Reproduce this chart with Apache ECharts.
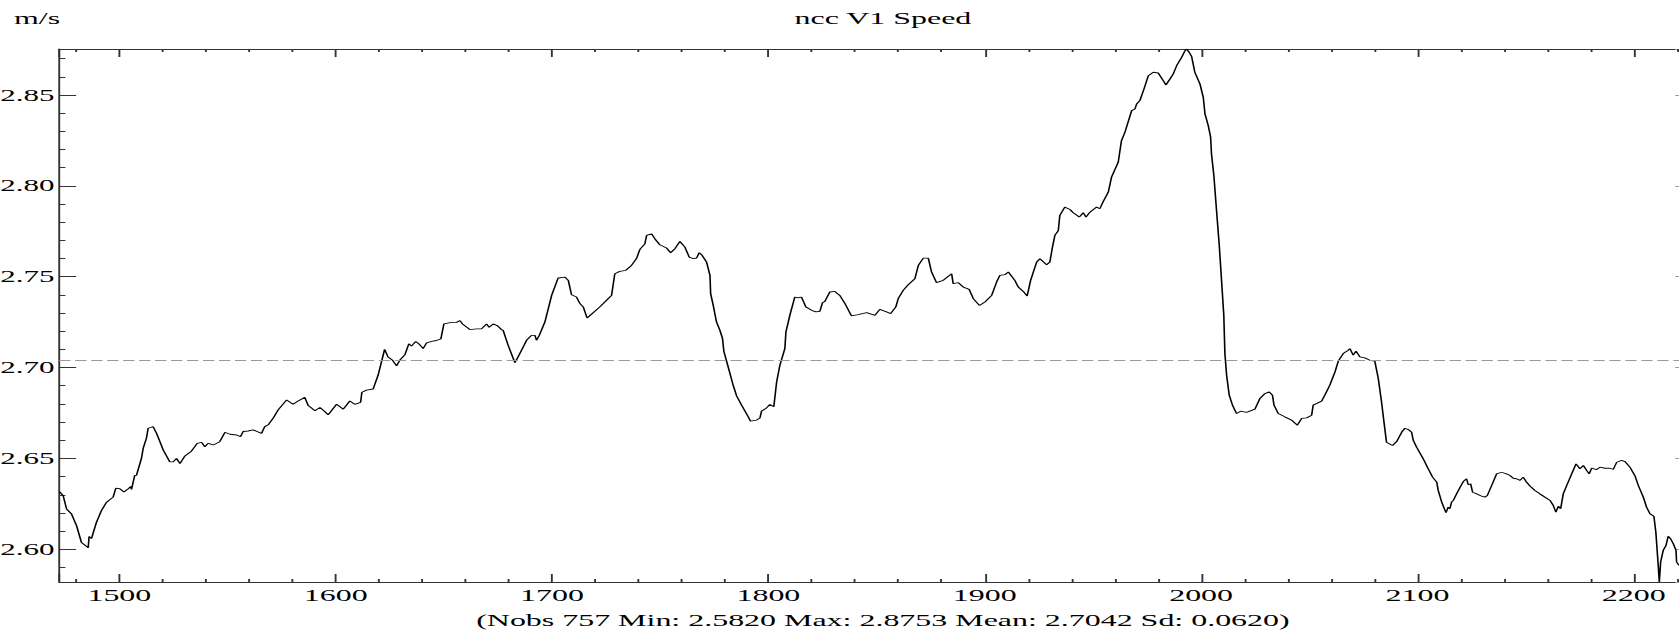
<!DOCTYPE html>
<html><head><meta charset="utf-8">
<script src="https://cdn.jsdelivr.net/npm/echarts@6/dist/echarts.min.js"></script>
<style>
html,body{margin:0;padding:0;background:#fff;width:1679px;height:632px;overflow:hidden}
#chart{width:893px;height:632px;transform:scaleX(1.880179);transform-origin:0 0}
</style></head><body><div id="chart"></div>
<script>
const chartTitle = 'ncc V1 Speed';
const unitLabel = 'm/s';
const summaryText = '(Nobs 757 Min: 2.5820 Max: 2.8753 Mean: 2.7042 Sd: 0.0620)';
const meanSpeed = 2.7042;
const xRange = [1472.2, 2220.9];
const yRange = [2.5820, 2.8753];

// [observation, speed m/s]
const speedStart = [
[1472.2,2.6318],[1474.0,2.6296],[1475.6,2.6222],[1477.9,2.6194],[1480.2,2.6130],[1482.5,2.6037],[1484.0,2.6024],[1485.6,2.6009],[1486.0,2.6070],[1487.1,2.6059],
[1489.4,2.6148],[1491.7,2.6213],[1494.1,2.6259],[1497.1,2.6287],[1498.4,2.6337],[1500.2,2.6333],[1502.1,2.6315],[1504.1,2.6333],[1505.3,2.6346],[1505.6,2.6329],
[1507.1,2.6407],[1507.9,2.6407],[1510.2,2.6500],[1511.0,2.6555],[1512.5,2.6611],[1513.3,2.6666],[1515.6,2.6675],[1517.2,2.6638],[1520.3,2.6546],[1523.3,2.6481],
[1524.9,2.6481],[1526.4,2.6500],[1528.0,2.6472],[1530.3,2.6514],[1533.3,2.6540],[1536.0,2.6583],[1538.0,2.6588],[1539.5,2.6564],[1541.0,2.6583],[1543.4,2.6574],
[1546.4,2.6592],[1548.8,2.6644],[1551.1,2.6633],[1554.2,2.6629],[1556.0,2.6620],[1557.2,2.6648],[1559.5,2.6651],[1561.8,2.6657],[1565.7,2.6638],[1567.2,2.6675],
[1568.8,2.6685],[1571.1,2.6722]
];
const speedRise = [
[1573.4,2.6767],[1577.3,2.6822],[1580.3,2.6798],[1582.6,2.6816],[1585.7,2.6836],[1587.3,2.6791],[1590.4,2.6762],[1592.7,2.6780],[1594.5,2.6762],[1596.5,2.6740],
[1600.4,2.6798],[1603.5,2.6771],[1606.5,2.6816],[1608.8,2.6798],[1611.5,2.6809],[1612.1,2.6864],[1614.2,2.6876],[1617.3,2.6882],[1619.6,2.6958],[1622.6,2.7100],
[1624.2,2.7058],[1626.3,2.7040],[1628.1,2.7009],[1629.6,2.7040],[1632.0,2.7071],[1633.8,2.7131],[1635.0,2.7118],[1637.0,2.7144],[1638.9,2.7125],[1640.4,2.7104],
[1642.0,2.7136],[1644.3,2.7144],[1646.6,2.7149],[1648.6,2.7158],[1650.0,2.7240],[1653.5,2.7249],[1655.8,2.7249],[1657.4,2.7258],[1658.6,2.7240],[1662.0,2.7209],
[1665.1,2.7213],[1667.4,2.7213],[1669.7,2.7240],[1670.9,2.7222],[1672.8,2.7240],[1674.6,2.7231],[1676.6,2.7209]
];
const speedMiddle = [
[1677.4,2.7205],[1679.7,2.7123],[1682.8,2.7027],[1684.3,2.7059],[1686.7,2.7114],[1688.2,2.7150],[1690.5,2.7177],[1692.1,2.7177],[1692.8,2.7150],[1694.1,2.7177],
[1696.7,2.7251],[1699.8,2.7397],[1702.8,2.7493],[1705.9,2.7498],[1707.5,2.7480],[1709.0,2.7401],[1711.3,2.7388],[1712.9,2.7352],[1714.4,2.7334],[1716.2,2.7273],
[1719.0,2.7302],[1722.1,2.7334],[1725.2,2.7370],[1727.5,2.7397],[1729.0,2.7516],[1731.3,2.7529],[1734.1,2.7535],[1736.7,2.7562],[1739.0,2.7599],[1740.6,2.7650],
[1742.9,2.7681],[1743.7,2.7727],[1746.0,2.7736],[1747.5,2.7709],[1749.8,2.7676],[1752.9,2.7658],[1754.8,2.7632],[1756.8,2.7654],[1759.1,2.7694],[1761.4,2.7663],
[1763.4,2.7608],[1765.2,2.7599],[1766.8,2.7603],[1768.0,2.7632],[1769.1,2.7621],[1771.4,2.7581],[1773.0,2.7507],[1773.3,2.7407],[1774.5,2.7342],[1776.0,2.7251],
[1777.6,2.7205],[1778.8,2.7159],[1779.4,2.7090],[1781.4,2.7004],[1783.7,2.6903],[1785.3,2.6844],[1787.6,2.6793],[1790.7,2.6729],[1791.7,2.6705],[1794.5,2.6711],
[1796.1,2.6723],[1796.8,2.6760],[1799.1,2.6778],[1800.7,2.6797],[1802.5,2.6784],[1803.8,2.6921],[1805.3,2.7013],[1807.6,2.7104],[1808.1,2.7196],[1809.9,2.7287],
[1812.2,2.7388],[1813.8,2.7383],[1815.3,2.7388],[1817.3,2.7334],[1820.0,2.7315],[1822.0,2.7306],[1823.8,2.7310],[1825.0,2.7357],[1826.1,2.7364],[1828.4,2.7416],
[1830.7,2.7419],[1833.0,2.7397],[1835.4,2.7352],[1838.4,2.7284],[1841.5,2.7291],[1845.4,2.7302],[1849.2,2.7287],[1851.5,2.7320],[1854.6,2.7306],[1856.5,2.7297],
[1858.9,2.7334],[1860.0,2.7379],[1862.3,2.7425],[1864.6,2.7456],[1867.7,2.7489],[1869.3,2.7562],[1871.6,2.7602],[1873.9,2.7602],[1875.4,2.7526],[1877.7,2.7467],
[1880.8,2.7480],[1884.7,2.7516],[1885.4,2.7462],[1887.8,2.7467],[1890.1,2.7443],[1892.8,2.7430],[1894.7,2.7379],[1897.5,2.7342],[1900.1,2.7361],[1903.2,2.7397],
[1905.5,2.7471],[1907.0,2.7507]
];
const speedPeak = [
[1909.3,2.7511],[1910.9,2.7526],[1913.9,2.7480],[1915.5,2.7443],[1917.8,2.7419],[1919.6,2.7394],[1921.2,2.7480],[1924.0,2.7581],[1925.5,2.7599],[1928.6,2.7566],
[1930.1,2.7581],[1931.3,2.7663],[1932.4,2.7727],[1934.0,2.7754],[1934.7,2.7837],[1937.0,2.7883],[1939.4,2.7870],[1940.9,2.7852],[1943.7,2.7828],[1945.5,2.7852],
[1946.8,2.7828],[1948.6,2.7855],[1951.7,2.7883],[1953.2,2.7874],[1954.8,2.7914],[1957.1,2.7965],[1958.6,2.8048],[1961.7,2.8130],[1963.2,2.8249],[1964.8,2.8295],
[1967.9,2.8414],[1969.4,2.8423],[1970.2,2.8450],[1971.7,2.8469],[1973.6,2.8533],[1975.6,2.8606],[1977.9,2.8625],[1980.2,2.8621],[1982.5,2.8579],[1983.7,2.8555],
[1985.6,2.8588],[1987.1,2.8615],[1988.7,2.8661],[1991.0,2.8707],[1992.5,2.8743],[1993.3,2.8753],[1994.5,2.8735],[1995.6,2.8713],[1997.1,2.8625],[1999.5,2.8560],
[2001.0,2.8487],[2001.8,2.8396],[2003.3,2.8332],[2004.4,2.8268],[2004.8,2.8176],[2005.9,2.8057],[2007.2,2.7855],[2008.4,2.7672],[2009.5,2.7471],[2010.5,2.7287],
[2011.0,2.7077],[2011.8,2.6958],[2013.0,2.6848],[2014.6,2.6790],[2016.4,2.6747],[2018.3,2.6760],[2021.0,2.6753],[2024.9,2.6771],[2027.2,2.6830],[2029.5,2.6857],
[2031.5,2.6866],[2033.0,2.6848],[2033.7,2.6793],[2035.7,2.6747],[2038.7,2.6729],[2041.8,2.6711],[2044.5,2.6683],[2046.5,2.6720],[2048.8,2.6723],[2051.1,2.6738],
[2051.8,2.6793],[2055.7,2.6815],[2057.2,2.6848],[2059.5,2.6903],[2061.9,2.6976],[2063.4,2.7035],[2065.7,2.7077],[2068.0,2.7095],[2068.8,2.7104],[2070.3,2.7068],
[2071.6,2.7090],[2073.4,2.7059],[2075.7,2.7053],[2078.0,2.7040],[2080.3,2.7035],[2081.9,2.6940],[2083.4,2.6812],[2084.5,2.6703]
];
const speedEnd = [
[2085.7,2.6589],[2088.5,2.6571],[2090.4,2.6593],[2092.7,2.6644],[2094.2,2.6666],[2095.8,2.6659],[2097.3,2.6644],[2098.1,2.6599],[2099.6,2.6562],[2102.7,2.6498],
[2105.0,2.6443],[2107.0,2.6397],[2108.9,2.6370],[2109.6,2.6324],[2111.2,2.6260],[2113.2,2.6201],[2114.2,2.6232],[2115.0,2.6223],[2115.8,2.6260],[2116.6,2.6269],
[2118.1,2.6305],[2120.0,2.6348],[2121.2,2.6373],[2122.7,2.6388],[2123.5,2.6355],[2124.6,2.6360],[2125.5,2.6314],[2127.4,2.6305],[2129.7,2.6292],[2131.2,2.6287],
[2132.3,2.6296],[2134.3,2.6351],[2136.6,2.6415],[2138.9,2.6424],[2141.2,2.6415],[2142.8,2.6406],[2144.3,2.6391],[2145.8,2.6388],[2147.4,2.6379],[2148.9,2.6397],
[2150.2,2.6373],[2152.0,2.6348],[2154.3,2.6324],[2156.6,2.6305],[2158.9,2.6287],[2161.3,2.6269],[2162.8,2.6241],[2164.0,2.6204],[2165.1,2.6237],[2166.2,2.6223],
[2167.4,2.6305],[2169.0,2.6351],[2171.3,2.6415],[2173.3,2.6470],[2175.1,2.6443],[2176.7,2.6461],[2178.2,2.6434],[2179.4,2.6415],[2180.5,2.6446],[2182.8,2.6439],
[2184.4,2.6452],[2186.7,2.6446],[2189.0,2.6446],[2190.5,2.6439],[2192.1,2.6479],[2194.4,2.6489],[2195.9,2.6483],[2198.2,2.6452],[2200.5,2.6406],[2202.1,2.6351],
[2204.4,2.6287],[2205.9,2.6232],[2207.5,2.6195],[2209.3,2.6182],[2210.2,2.6094],[2211.3,2.5911],[2211.8,2.5820],[2212.4,2.5929],[2213.6,2.5994],[2214.9,2.6021],
[2215.9,2.6072],[2217.0,2.6058],[2218.3,2.6030],[2219.5,2.5994],[2219.8,2.5929],[2220.9,2.5911]
];

const speedData = [].concat(speedStart, speedRise, speedMiddle, speedPeak, speedEnd);

const FONT = "'Liberation Serif', 'Times New Roman', serif";
const FONT_CSS = "17px 'Liberation Serif', 'Times New Roman', serif";
const AXIS_COLOR = '#333';
const chart = echarts.init(document.getElementById('chart'), null, {renderer: 'svg'});

const baseLabel = {color: '#000', fontFamily: FONT, fontSize: 17};

chart.setOption({
  animation: false,
  backgroundColor: '#fff',
  grid: {left: 31.5, right: 0, top: 49, bottom: 50, containLabel: false, outerBoundsMode: 'none'},
  graphic: [
    {type: 'text', x: 469.6, y: 18, silent: true,
     style: {text: chartTitle, fill: '#000', font: FONT_CSS, align: 'center', verticalAlign: 'middle'}},
    {type: 'text', x: 7.4, y: 18, silent: true,
     style: {text: unitLabel, fill: '#000', font: FONT_CSS, align: 'left', verticalAlign: 'middle'}},
    {type: 'text', x: 469.6, y: 620, silent: true,
     style: {text: summaryText, fill: '#000', font: FONT_CSS, align: 'center', verticalAlign: 'middle'}}
  ],
  xAxis: [
    {type: 'value', position: 'bottom', min: xRange[0], max: xRange[1], splitNumber: 7,
     axisLine: {show: true, onZero: false, lineStyle: {color: AXIS_COLOR, width: 1}},
     axisTick: {show: true, inside: true, length: 8, lineStyle: {color: AXIS_COLOR}},
     minorTick: {show: true, splitNumber: 5, length: 3, lineStyle: {color: AXIS_COLOR}},
     axisLabel: Object.assign({}, baseLabel, {margin: 5, showMinLabel: false, showMaxLabel: false,
       formatter: v => String(Math.round(v))}),
     splitLine: {show: false}, minorSplitLine: {show: false}},
    {type: 'value', position: 'top', min: xRange[0], max: xRange[1], splitNumber: 7,
     axisLine: {show: true, onZero: false, lineStyle: {color: AXIS_COLOR, width: 1}},
     axisTick: {show: true, inside: true, length: 8, lineStyle: {color: AXIS_COLOR}},
     minorTick: {show: true, splitNumber: 5, length: 3, lineStyle: {color: AXIS_COLOR}},
     axisLabel: {show: false}, splitLine: {show: false}}
  ],
  yAxis: [
    {type: 'value', position: 'left', min: yRange[0], max: yRange[1], splitNumber: 6,
     axisLine: {show: true, onZero: false, lineStyle: {color: AXIS_COLOR, width: 1}},
     axisTick: {show: true, inside: true, length: 9, lineStyle: {color: AXIS_COLOR}},
     minorTick: {show: true, splitNumber: 5, length: 3.3, lineStyle: {color: AXIS_COLOR}},
     axisLabel: Object.assign({}, baseLabel, {fontSize: 16.5, margin: 2.5, showMinLabel: false, showMaxLabel: false,
       formatter: v => v.toFixed(2)}),
     splitLine: {show: false}},
    {type: 'value', position: 'right', offset: 7, min: yRange[0], max: yRange[1], splitNumber: 6,
     axisLine: {show: true, onZero: false, lineStyle: {color: '#999', width: 1}},
     axisTick: {show: true, inside: true, length: 9, lineStyle: {color: '#999'}},
     axisLabel: {show: false}, splitLine: {show: false}}
  ],
  series: [{
    type: 'line', xAxisIndex: 0, yAxisIndex: 0,
    data: speedData, showSymbol: false, symbol: 'none', smooth: false,
    lineStyle: {color: '#000', width: 0.85},
    markLine: {
      silent: true, precision: 4, symbol: ['none', 'none'], label: {show: false},
      lineStyle: {color: '#9a9a9a', type: [6, 2.5], width: 1},
      data: [{yAxis: meanSpeed}]
    }
  }]
});
</script></body></html>
